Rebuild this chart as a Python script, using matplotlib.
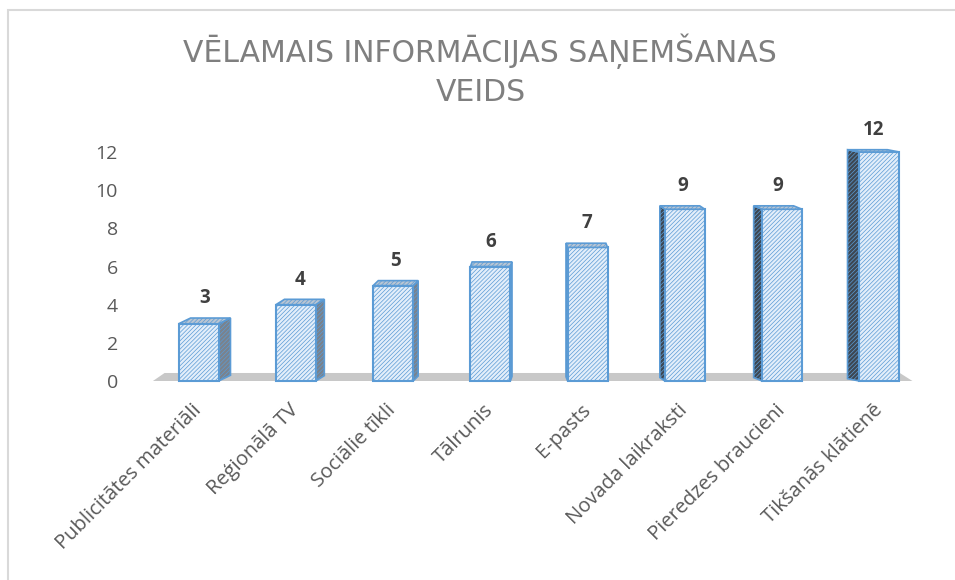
import matplotlib.pyplot as plt
import matplotlib.transforms as mtransforms
from matplotlib.patches import Polygon, Rectangle
import numpy as np

# 数据
categories = ['Publicitātes materiāli', 'Reģionālā TV', 'Sociālie tīkli', 'Tālrunis',
              'E-pasts', 'Novada laikraksti', 'Pieredzes braucieni', 'Tikšanās klātienē']
values = [3, 4, 5, 6, 7, 9, 9, 12]
y_ticks = [0, 2, 4, 6, 8, 10, 12]
title = 'VĒLAMAIS INFORMĀCIJAS SAŅEMŠANAS\nVEIDS'

plt.rcParams['font.family'] = ['Open Sans', 'DejaVu Sans']
plt.rcParams['hatch.linewidth'] = 0.5

blue = '#5b9bd5'
front_fill = '#e3eefa'
top_fill = '#b9c5d2'
grey_text = '#595959'

fig = plt.figure(figsize=(9.55, 5.8), dpi=100)
ax = fig.add_axes([150 / 955, 1 - 381 / 580, 778 / 955, (381 - 152) / 580])

x = np.arange(len(categories))
width = 0.41
n = len(categories)
mid = (n - 1) / 2

# 地板（灰色带）
floor = Polygon([(-0.47, 0), (7.34, 0), (7.21, 0.42), (-0.35, 0.42)],
                closed=True, facecolor='#c8c8c8', edgecolor='none', zorder=1, clip_on=False)
ax.add_patch(floor)

# 侧面和顶面，模拟三维透视
for i, h in enumerate(values):
    dx = 0.035 * (mid - i)
    dy = 0.36 - 0.02 * h
    x0 = i - width / 2
    x1 = i + width / 2
    if dx > 0:
        xs, side_fill = x1, '#7a828c'
    else:
        xs, side_fill = x0, '#3d4752'
    side = Polygon([(xs, 0), (xs, h), (xs + dx, h + dy), (xs + dx, dy)], closed=True,
                   facecolor=side_fill, edgecolor=blue, linewidth=1.2, hatch='////////',
                   zorder=2, clip_on=False)
    ax.add_patch(side)
    top = Polygon([(x0, h), (x1, h), (x1 + dx, h + dy), (x0 + dx, h + dy)], closed=True,
                  facecolor=top_fill, edgecolor=blue, linewidth=1.2, hatch='////////',
                  zorder=4, clip_on=False)
    ax.add_patch(top)
    ax.annotate(str(h), (i + dx / 2, h + dy), xytext=(0, 7), textcoords='offset points',
                ha='center', va='bottom', fontsize=13.5, fontweight='bold', color='#404040',
                annotation_clip=False)

# 正面
bars = ax.bar(x, values, width=width, color=front_fill, edgecolor=blue, linewidth=1.5,
              hatch='////////', zorder=3)
for b in bars:
    b.set_clip_on(False)

ax.set_xlim(-0.5, n - 0.5)
ax.set_ylim(0, 12)
ax.set_yticks(y_ticks)
ax.set_xticks(x)
ax.set_xticklabels(categories, rotation=45, ha='right', va='center', rotation_mode='anchor',
                   fontsize=14.5, color=grey_text)
shift = mtransforms.ScaledTranslation(8 / 100, 0, fig.dpi_scale_trans)
for lbl in ax.get_xticklabels():
    lbl.set_transform(lbl.get_transform() + shift)
ax.tick_params(axis='y', length=0, pad=23, labelsize=14, labelcolor=grey_text)
ax.tick_params(axis='x', length=0, pad=19)
for s in ax.spines.values():
    s.set_visible(False)
ax.patch.set_alpha(0)

fig.text(0.503, 1 - 70 / 580, title, ha='center', va='center', fontsize=21.5,
         color='#7f7f7f', linespacing=1.4, family='DejaVu Sans')

# 外框
fig.patches.append(Rectangle((8 / 955, -0.1), 1.2, 1.1 - 10 / 580, transform=fig.transFigure,
                             fill=False, edgecolor='#d9d9d9', linewidth=1.5))

fig.savefig('out.png', dpi=100)
